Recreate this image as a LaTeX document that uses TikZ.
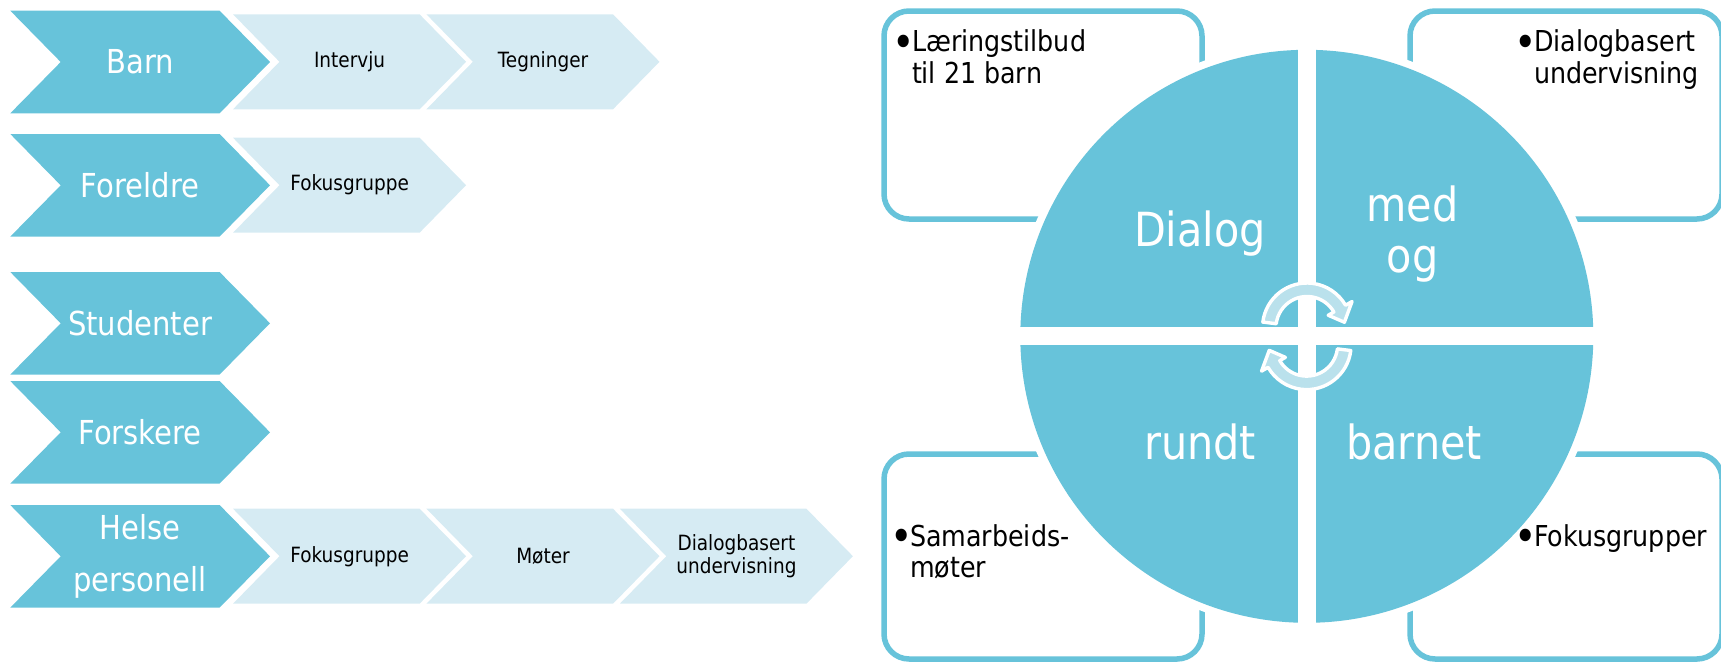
\documentclass[tikz,border=0pt]{standalone}
\usepackage{graphicx}
\usepackage{fontspec}
\setmainfont{DejaVu Sans}[FakeStretch=0.88]
\usetikzlibrary{
    positioning,
    calc
    }
\definecolor{ringblue}{RGB}{103,195,218}
\definecolor{paleblue}{RGB}{214,235,243}
\definecolor{arrowblue}{RGB}{186,225,236}
\newcommand{\notebullet}{\makebox[16pt][l]{\kern-3.5pt\rlap{\raisebox{-5.2pt}{\scalebox{1.5}{•}}}}}

\begin{document}
\begin{tikzpicture}[x=1pt, y=-1pt]
\tikzset{group chevron/.pic = {
            \fill[ringblue] (0,0) -- (209.3,0) -- (259.7,51.3) -- (209.3,102.6) -- (0,102.6) -- (50.4,51.3) -- cycle;
        }
}

\tikzset{method chevron/.pic = {
            \fill[paleblue] (0,0) -- (186.6,0) -- (233.1,47.5) -- (186.6,95) -- (0,95) -- (46.5,47.5) -- cycle;
        }
}

\tikzset{group label/.style =
        {
            text=white,
            align=center,
            inner sep=0pt,
            font=\fontsize{33}{51.6}\selectfont
        }
}

\tikzset{method label/.style =
        {
            text=black,
            align=center,
            inner sep=0pt,
            font=\fontsize{21}{22.5}\selectfont
        }
}

\tikzset{note box/.style =
        {
            draw=ringblue,
            line width=5.5pt,
            fill=white,
            rounded corners=25pt
        }
}

\tikzset{note/.style =
        {
            anchor=north west,
            align=left,
            inner sep=0pt,
            font=\fontsize{28.8}{31.6}\selectfont
        }
}

\tikzset{quarter label/.style =
        {
            text=white,
            align=center,
            inner sep=0pt,
            font=\fontsize{47}{51}\selectfont
        }
}

\tikzset{cycle arrow/.style =
        {
            fill=arrowblue,
            draw=white,
            line width=3.4pt,
            line join=round
        }
}
		\useasboundingbox (0,0) rectangle (1721,662);

		\foreach \name / \top / \lab in
			{barn/10.7/Barn,
				foreldre/134/Foreldre,
				studenter/272/Studenter,
				forskere/381/Forskere,
				helse/505/{Helse\\personell}}
		{
			\pic at (10.3,\top) {group chevron};
			\node[group label] (\name) at (140.1,\top+51.3) {\lab};
		}

		\foreach \name / \x / \top / \lab in
			{intervju/233/14.3/Intervju,
				tegninger/426.4/14.3/Tegninger,
				fokus/233/137.7/Fokusgruppe,
				helsefokus/233/508.7/Fokusgruppe,
				moter/426.4/508.7/Møter,
				dialogbasert/619.8/508.7/{Dialogbasert\\undervisning}}
		{
			\pic at (\x,\top) {method chevron};
			\node[method label] (\name) at (\x+116.6,\top+47.5) {\lab};
		}

		\draw[note box] (884,11) rectangle (1202,219);
		\draw[note box] (1410,11) rectangle (1722,219);
		\draw[note box] (884,454) rectangle (1202,659);
		\draw[note box] (1410,454) rectangle (1722,659);

		\coordinate (hub) at (1306.8,336.3);
		\fill[white] (hub) circle [radius=294];
		\fill[ringblue] (hub) circle [radius=286.5];
		\fill[white] ($(hub)+(-295,-9)$) rectangle ($(hub)+(295,9)$);
		\fill[white] ($(hub)+(-9,-295)$) rectangle ($(hub)+(9,295)$);

		% the two turning arrows in the middle
		\begin{scope}[shift={(1307,327.5)}]
			\draw[cycle arrow] (187:44.5) arc [start angle=187, end angle=330, radius=44.5]
			-- (330:52) -- (352:37.75) -- (330:24.5) -- (330:31)
			arc [start angle=330, end angle=187, radius=31] -- cycle;
		\end{scope}
		\begin{scope}[shift={(1306.6,345.1)}]
			\draw[cycle arrow] (7:44.5) arc [start angle=7, end angle=150, radius=44.5]
			-- (150:52) -- (172:37.75) -- (150:24.5) -- (150:31)
			arc [start angle=150, end angle=7, radius=31] -- cycle;
		\end{scope}

		\node[quarter label, anchor=base] (dialog) at ($(hub)+(-106.8,-89.6)$) {Dialog};
		\node[quarter label] (med) at ($(hub)+(105.7,-102.4)$) {med\\og};
		\node[quarter label, anchor=base] (rundt) at ($(hub)+(-106.8,123)$) {rundt};
		\node[quarter label, anchor=base] (barnet) at ($(hub)+(107.2,123)$) {barnet};

		\node[note] (tilbud) at (895.8,29.8) {\notebullet Læringstilbud\\\hspace*{16pt}til 21 barn};
		\node[note] (undervisning) at (1517.8,29.8) {\notebullet Dialogbasert\\\hspace*{16pt}undervisning};
		\node[note] (samarbeid) at (893.8,524) {\notebullet Samarbeids-\\\hspace*{16pt}møter};
		\node[note] (fokusgrupper) at (1517.8,524) {\notebullet Fokusgrupper};

	\end{tikzpicture}
\end{document}
